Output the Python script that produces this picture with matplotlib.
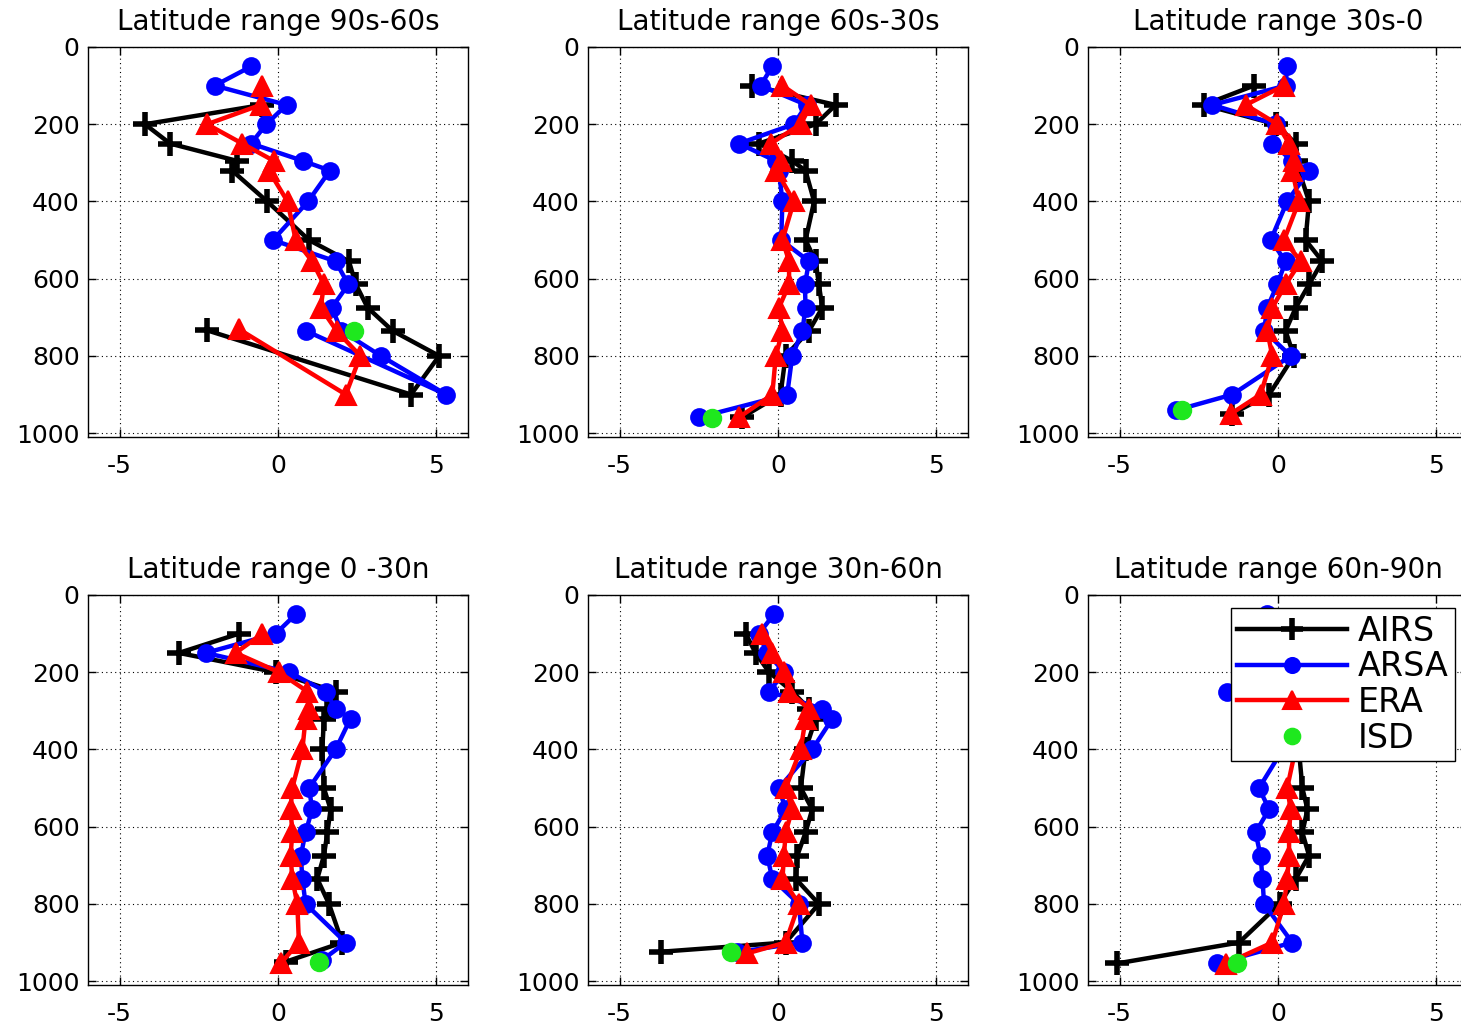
import numpy as np
import matplotlib.pyplot as plt

plt.rcParams['font.family'] = 'DejaVu Sans'
plt.rcParams['axes.unicode_minus'] = False

# panel titles (row by row)
titles = ['Latitude range 90s-60s', 'Latitude range 60s-30s', 'Latitude range 30s-0',
          'Latitude range 0 -30n', 'Latitude range 30n-60n', 'Latitude range 60n-90n']

# pressure levels (hPa) shared by the profiles
levels = [50, 100, 150, 200, 250, 295, 320, 400, 500, 555, 615, 675, 735, 800, 900]
nan = np.nan

# AIRS profiles, one list per panel
airs_x = [
    [nan, nan, -0.5, -4.2, -3.41, -1.29, -1.45, -0.34, 0.98, 2.24, 2.46, 2.83, 3.62, 5.09, 4.2],
    [nan, -0.81, 1.82, 1.19, -0.6, 0.45, 0.87, 1.14, 0.87, 1.19, 1.29, 1.4, 0.98, 0.24, 0.08],
    [nan, -0.76, -2.34, -0.07, 0.56, 0.56, 0.66, 0.98, 0.87, 1.4, 0.98, 0.56, 0.24, 0.5, -0.28],
    [nan, -1.23, -3.13, -0.07, 1.82, 1.56, 1.45, 1.4, 1.45, 1.66, 1.56, 1.45, 1.24, 1.61, 2.03],
    [nan, -1.02, -0.71, -0.28, 0.45, 0.98, 1.19, 0.87, 0.72, 1.08, 0.87, 0.61, 0.56, 1.29, 0.24],
    [nan, -0.3, 0.2, 0.6, 0.5, 0.7, 0.8, 0.66, 0.77, 0.93, 0.77, 0.98, 0.56, 0.05, -1.23],
]
airs_sfc_x = [-2.23, -1.13, -1.45, 0.24, -3.71, -5.07]
airs_sfc_p = [734, 959, 950, 950, 924, 954]

# ARSA profiles
arsa_x = [
    [-0.84, -2.0, 0.27, -0.37, -0.85, 0.79, 1.64, 0.95, -0.16, 1.82, 2.22, 1.7, 2.0, 3.25, 5.31],
    [-0.18, -0.55, 0.9, 0.5, -1.23, -0.07, 0.03, 0.14, 0.1, 0.98, 0.85, 0.87, 0.77, 0.45, 0.29],
    [0.29, 0.24, -2.07, -0.07, -0.18, 0.45, 0.98, 0.29, -0.23, 0.24, -0.02, -0.34, -0.44, 0.4, -1.44],
    [0.56, -0.07, -2.28, 0.35, 1.51, 1.82, 2.29, 1.82, 0.98, 1.08, 0.87, 0.72, 0.77, 0.87, 2.14],
    [-0.13, -0.6, -0.35, 0.2, -0.28, 1.4, 1.72, 1.08, 0.03, 0.24, -0.18, -0.34, -0.18, 0.66, 0.77],
    [-0.34, -0.6, -0.2, 0.4, -1.6, 0.3, 0.5, 0.15, -0.6, -0.28, -0.71, -0.55, -0.49, -0.44, 0.45],
]
arsa_sfc_x = [0.88, -2.49, -3.23, 1.4, -1.3, -1.92]
arsa_sfc_p = [735, 959, 941, 945, 925, 954]

# ERA profiles
era_x = [
    [nan, -0.5, -0.55, -2.24, -1.13, -0.13, -0.29, 0.3, 0.56, 1.08, 1.45, 1.35, 1.85, 2.6, 2.14],
    [nan, 0.14, 1.03, 0.72, -0.23, 0.1, -0.05, 0.5, 0.14, 0.35, 0.35, 0.03, 0.14, -0.07, -0.18],
    [nan, 0.19, -1.02, -0.02, 0.35, 0.5, 0.45, 0.66, 0.19, 0.72, 0.24, -0.18, -0.34, -0.18, -0.55],
    [nan, -0.49, -1.34, 0.03, 0.93, 0.98, 0.87, 0.77, 0.45, 0.4, 0.45, 0.4, 0.45, 0.61, 0.66],
    [nan, -0.49, -0.18, 0.19, 0.35, 0.98, 0.87, 0.72, 0.24, 0.45, 0.24, 0.19, 0.14, 0.66, 0.24],
    [nan, -0.2, 0.3, 0.6, 0.5, 0.6, 0.6, 0.55, 0.29, 0.4, 0.35, 0.35, 0.29, 0.19, -0.18],
]
era_sfc_x = [-1.23, -1.23, -1.49, 0.08, -0.97, -1.65]
era_sfc_p = [731, 959, 950, 954, 928, 955]

# ISD surface stations
isd_x = [2.4, -2.07, -3.02, 1.29, -1.49, -1.28]
isd_p = [735, 960, 941, 950, 924, 954]


def profile(xs, sx, sp):
    xs = np.asarray(xs, dtype=float)
    p = np.asarray(levels, dtype=float)
    ok = ~np.isnan(xs)
    return np.append(xs[ok], sx), np.append(p[ok], sp)


W, H = 1461, 1026
fig = plt.figure(figsize=(W / 100, H / 100), dpi=100)
lefts = [88, 588, 1088]
tops = [47, 595]
aw, ah = 380, 390

for i in range(6):
    r, c = divmod(i, 3)
    ax = fig.add_axes([lefts[c] / W, 1 - (tops[r] + ah) / H, aw / W, ah / H])

    x, p = profile(airs_x[i], airs_sfc_x[i], airs_sfc_p[i])
    l1, = ax.plot(x, p, '-', color='k', lw=3.2, marker='+', ms=17, mew=4, label='AIRS')
    x, p = profile(arsa_x[i], arsa_sfc_x[i], arsa_sfc_p[i])
    l2, = ax.plot(x, p, '-', color='#0000ff', lw=3.2, marker='o', ms=12, mew=1.5, label='ARSA')
    x, p = profile(era_x[i], era_sfc_x[i], era_sfc_p[i])
    l3, = ax.plot(x, p, '-', color='#ff0000', lw=3.2, marker='^', ms=14, mew=1.5, label='ERA')
    l4, = ax.plot([isd_x[i]], [isd_p[i]], 'o', color='#1ee81e', ms=13, label='ISD')

    ax.set_xlim(-6, 6)
    ax.set_ylim(1010, 0)
    ax.set_xticks([-5, 0, 5])
    ax.set_yticks([0, 200, 400, 600, 800, 1000])
    ax.grid(True, color='k', linestyle=(0, (1, 3)), linewidth=0.8)
    ax.tick_params(direction='in', length=6, width=1, top=True, right=True, labelsize=18)
    ax.tick_params(axis='x', pad=12)
    ax.tick_params(axis='y', pad=6)
    for s in ax.spines.values():
        s.set_linewidth(1)
    ax.set_title(titles[i], fontsize=20, pad=12)

    if i == 5:
        leg = ax.legend(handles=[l1, l2, l3, l4], loc='upper right',
                        bbox_to_anchor=(1455 / W, 1 - 608 / H), bbox_transform=fig.transFigure,
                        borderaxespad=0, fontsize=24, handlelength=3.3, handletextpad=0.3,
                        labelspacing=0.08, borderpad=0.2, fancybox=False, framealpha=1,
                        edgecolor='k', markerscale=0.9)
        leg.get_frame().set_linewidth(1)

fig.savefig('out.png', dpi=100)
